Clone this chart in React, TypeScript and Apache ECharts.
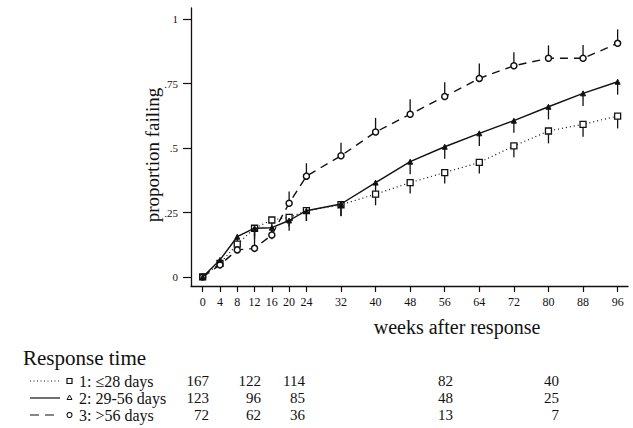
import React, { useEffect, useRef } from "react";
import * as echarts from "echarts";

const weeks = [0, 4, 8, 12, 16, 20, 24, 32, 40, 48, 56, 64, 72, 80, 88, 96];
const yTicks = [0, 0.25, 0.5, 0.75, 1];

// proportion failing, by response time group
const group1 = [0, 0.053, 0.127, 0.189, 0.221, 0.231, 0.257, 0.28, 0.321, 0.366, 0.405, 0.444, 0.508, 0.566, 0.592, 0.624];
const group2 = [0, 0.066, 0.156, 0.189, 0.191, 0.219, 0.257, 0.283, 0.366, 0.447, 0.505, 0.557, 0.606, 0.66, 0.712, 0.757];
const group3 = [0, 0.047, 0.105, 0.111, 0.163, 0.286, 0.391, 0.47, 0.562, 0.631, 0.7, 0.77, 0.819, 0.848, 0.848, 0.906];

// one-sided error bar lengths (groups 1, 2 downward, group 3 upward)
const err1 = [0, 0.02, 0.03, 0.03, 0.03, 0.035, 0.04, 0.045, 0.043, 0.042, 0.043, 0.043, 0.044, 0.048, 0.048, 0.048];
const err2 = [0, 0.02, 0.05, 0.04, 0.045, 0.04, 0.04, 0.047, 0.047, 0.049, 0.047, 0.049, 0.047, 0.049, 0.049, 0.05];
const err3 = [0, 0.02, 0.03, 0.075, 0.03, 0.045, 0.05, 0.05, 0.055, 0.058, 0.055, 0.058, 0.052, 0.05, 0.052, 0.054];

const legendTitle = "Response time";
const groupLabels = ["1: \u226428 days", "2: 29-56 days", "3: >56 days"];
const atRisk1 = ["167", "122", "114", "82", "40"];
const atRisk2 = ["123", "96", "85", "48", "25"];
const atRisk3 = ["72", "62", "36", "13", "7"];

const FONT = "Liberation Serif";
const INK = "#111";

export default function App() {
  const ref = useRef<HTMLDivElement>(null);

  useEffect(() => {
    document.body.style.margin = "0";
    if (!ref.current) return;
    const chart = echarts.init(ref.current, undefined, { renderer: "svg" });

    const pts = (vals: number[]) => weeks.map((w, i) => [w, vals[i]]);
    const bars = (vals: number[], errs: number[], dir: number) =>
      weeks.map((w, i) => [w, vals[i], vals[i] + dir * errs[i]]);

    const errSeries = (data: number[][]) => ({
      type: "custom",
      silent: true,
      z: 1,
      data,
      encode: { x: 0, y: [1, 2] },
      renderItem: (_p: any, api: any) => {
        const a = api.coord([api.value(0), api.value(1)]);
        const b = api.coord([api.value(0), api.value(2)]);
        return {
          type: "line",
          shape: { x1: a[0], y1: a[1], x2: b[0], y2: b[1] },
          style: { stroke: INK, lineWidth: 1.3 },
        };
      },
    });

    const rowY = [381, 398, 415];
    const colX = [209, 261, 305, 453, 559];
    const tables = [atRisk1, atRisk2, atRisk3];

    const txt = (text: string, x: number, y: number, size: number, align: string, extra: any = {}) => ({
      type: "text",
      x,
      y,
      ...extra,
      style: { text, fontSize: size, fontFamily: FONT, fill: INK, align, verticalAlign: "middle" },
    });

    const graphic: any[] = [
      txt("proportion failing", 152, 155, 19, "center", { rotation: Math.PI / 2 }),
      txt("weeks after response", 457, 327, 20, "center"),
      txt(legendTitle, 23, 358, 21, "left"),
    ];
    // legend samples
    graphic.push({ type: "line", shape: { x1: 30, y1: rowY[0], x2: 60, y2: rowY[0] }, style: { stroke: INK, lineWidth: 1, lineDash: [1, 2.5] } });
    graphic.push({ type: "rect", shape: { x: 67, y: rowY[0] - 2.5, width: 5, height: 5 }, style: { fill: "#fff", stroke: INK, lineWidth: 1.2 } });
    graphic.push({ type: "line", shape: { x1: 30, y1: rowY[1], x2: 60, y2: rowY[1] }, style: { stroke: INK, lineWidth: 1.2 } });
    graphic.push({ type: "polygon", shape: { points: [[69.5, rowY[1] - 3], [72, rowY[1] + 1.5], [67, rowY[1] + 1.5]] }, style: { fill: "#fff", stroke: INK, lineWidth: 1 } });
    graphic.push({ type: "line", shape: { x1: 30, y1: rowY[2], x2: 60, y2: rowY[2] }, style: { stroke: INK, lineWidth: 1.2, lineDash: [9, 6] } });
    graphic.push({ type: "circle", shape: { cx: 69.5, cy: rowY[2], r: 2.5 }, style: { fill: "#fff", stroke: INK, lineWidth: 1.1 } });

    groupLabels.forEach((lab, r) => {
      graphic.push(txt(lab, 79, rowY[r], 16, "left"));
      tables[r].forEach((t, c) => graphic.push(txt(t, colX[c], rowY[r], 15, "right")));
    });

    chart.setOption({
      animation: false,
      backgroundColor: "#fff",
      grid: { left: 191, right: 5, top: 8, bottom: 142, containLabel: false },
      xAxis: {
        type: "value",
        min: -2.7,
        max: 98.4,
        splitLine: { show: false },
        axisLine: { onZero: false, lineStyle: { color: INK, width: 1.3 } },
        axisTick: { show: true, length: 6, customValues: weeks, lineStyle: { color: INK, width: 1.2 } },
        axisLabel: { customValues: weeks, fontSize: 12, fontFamily: FONT, color: INK, margin: 10 },
      },
      yAxis: {
        type: "value",
        min: -0.035,
        max: 1.043,
        splitLine: { show: false },
        axisLine: { show: true, onZero: false, lineStyle: { color: INK, width: 1.3 } },
        axisTick: { show: true, length: 8, customValues: yTicks, lineStyle: { color: INK, width: 1.2 } },
        axisLabel: {
          customValues: yTicks,
          fontSize: 11,
          fontFamily: FONT,
          color: INK,
          margin: 13,
          formatter: (v: number) => (v === 0 ? "0" : v === 1 ? "1" : String(v).replace(/^0/, "")),
        },
      },
      series: [
        errSeries(bars(group1, err1, -1)),
        errSeries(bars(group2, err2, -1)),
        errSeries(bars(group3, err3, 1)),
        {
          type: "line",
          data: pts(group1),
          z: 3,
          symbol: "rect",
          symbolSize: 6,
          lineStyle: { color: INK, width: 1.2, type: [1, 3] },
          itemStyle: { color: "#fff", borderColor: INK, borderWidth: 1.3 },
        },
        {
          type: "line",
          data: pts(group2),
          z: 4,
          symbol: "triangle",
          symbolSize: 5,
          lineStyle: { color: INK, width: 1.4, type: "solid" },
          itemStyle: { color: INK, borderColor: INK, borderWidth: 1 },
        },
        {
          type: "line",
          data: pts(group3),
          z: 3,
          symbol: "circle",
          symbolSize: 6,
          lineStyle: { color: INK, width: 1.4, type: [8, 6] },
          itemStyle: { color: "#fff", borderColor: INK, borderWidth: 1.5 },
        },
      ],
      graphic,
    });

    return () => chart.dispose();
  }, []);

  return <div ref={ref} style={{ position: "fixed", left: 0, top: 0, width: 633, height: 428 }} />;
}
